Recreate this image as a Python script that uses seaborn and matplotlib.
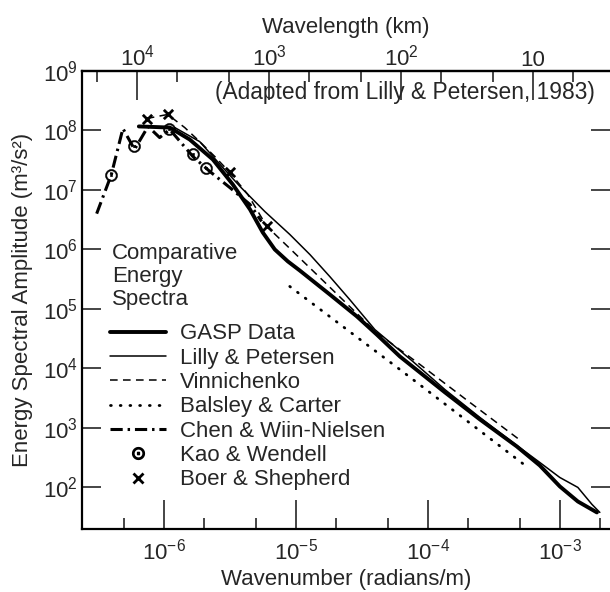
import matplotlib
matplotlib.use("Agg")
import matplotlib.pyplot as plt
from matplotlib.lines import Line2D
from matplotlib.ticker import LogLocator, FixedLocator, NullFormatter
import numpy as np
import seaborn as sns

# wavenumber (rad/m) and energy spectral amplitude (m^3/s^2)
gasp_k = [6.47e-7, 1.11e-6, 1.57e-6, 2.35e-6, 3.33e-6, 4.5e-6, 5.62e-6, 6.93e-6, 8.7e-6, 1.07e-5, 1.81e-5,
          2.9e-5, 4.1e-5, 6.14e-5, 1.35e-4, 2.48e-4, 4.72e-4, 7.05e-4, 1.0e-3, 1.37e-3, 1.91e-3]
gasp_E = [1.17e8, 1.12e8, 7.06e7, 3.26e7, 1.24e7, 4.7e6, 1.93e6, 1.0e6, 6.3e5, 4.44e5, 1.75e5,
          7.5e4, 3.72e4, 1.59e4, 3.95e3, 1.39e3, 489, 234, 104, 58, 38]

lilly_k = [1.21e-6, 1.87e-6, 2.66e-6, 3.77e-6, 5.82e-6, 9.0e-6, 1.28e-5, 1.81e-5, 2.56e-5, 3.97e-5,
           7.7e-5, 1.35e-4, 2.48e-4, 4.72e-4, 7.05e-4, 1.0e-3, 1.37e-3, 1.75e-3, 2.01e-3]
lilly_E = [1.12e8, 6.5e7, 2.7e7, 1.15e7, 4.35e6, 1.79e6, 8.2e5, 3.5e5, 1.44e5, 4.5e4,
           1.31e4, 4.4e3, 1.5e3, 508, 263, 147, 100, 52, 38]

vinn_k = [7.43e-7, 1.07e-6, 1.44e-6, 1.87e-6, 2.43e-6, 3.16e-6, 4.33e-6, 6.03e-6, 9.0e-6, 1.52e-5,
          2.56e-5, 4.1e-5, 8.7e-5, 2.08e-4, 4.8e-4]
vinn_E = [1.59e8, 1.86e8, 1.12e8, 6.5e7, 3.66e7, 1.97e7, 8.4e6, 2.44e6, 1.04e6, 3.38e5,
          1.1e5, 4.0e4, 1.17e4, 2.69e3, 667]

balsley_k = [9.0e-6, 6.14e-5, 5.72e-4]
balsley_E = [2.39e5, 9.6e3, 217]

chen_k = [3.1e-7, 4.0e-7, 4.9e-7, 6.0e-7, 7.6e-7, 9.3e-7, 1.11e-6, 1.66e-6, 2.23e-6, 3.16e-6, 4.5e-6, 5.5e-6]
chen_E = [4.0e6, 1.8e7, 1.08e8, 4.8e7, 1.17e8, 7.6e7, 1.04e8, 3.66e7, 2.05e7, 1.1e7, 5.7e6, 2.96e6]

kao_k = [3.97e-7, 5.93e-7, 1.09e-6, 1.66e-6, 2.08e-6]
kao_E = [1.8e7, 5.4e7, 1.04e8, 4.1e7, 2.3e7]

boer_k = [7.43e-7, 1.07e-6, 3.16e-6, 6.03e-6]
boer_E = [1.59e8, 1.86e8, 1.97e7, 2.44e6]

x_ticks = [1e-6, 1e-5, 1e-4, 1e-3]
x_labels = ['$\\mathregular{10^{-6}}$', '$\\mathregular{10^{-5}}$', '$\\mathregular{10^{-4}}$', '$\\mathregular{10^{-3}}$']
y_ticks = [1e2, 1e3, 1e4, 1e5, 1e6, 1e7, 1e8, 1e9]
y_labels = ['$\\mathregular{10^{%d}}$' % i for i in range(2, 10)]
wl_ticks = [1e4, 1e3, 1e2, 1e1]
wl_labels = ['$\\mathregular{10^{4}}$', '$\\mathregular{10^{3}}$', '$\\mathregular{10^{2}}$', '10']

sns.set_theme(style='ticks')
plt.rcParams['font.family'] = ['Liberation Sans', 'DejaVu Sans']
FS = 16

fig = plt.figure(figsize=(6.1, 5.92), dpi=100)
ax = fig.add_axes([82 / 610, 63 / 592, 528 / 610, 458 / 592])

chen_ls = (0, (4, 1.6, 0.8, 1.6))
vinn_ls = (0, (5, 3.5))
dot_ls = (0, (0.3, 3.2))

sns.lineplot(x=gasp_k, y=gasp_E, ax=ax, sort=False, estimator=None, color='black', lw=2.8)
sns.lineplot(x=lilly_k, y=lilly_E, ax=ax, sort=False, estimator=None, color='black', lw=1.1)
sns.lineplot(x=vinn_k, y=vinn_E, ax=ax, sort=False, estimator=None, color='black', lw=1.1, linestyle=vinn_ls)
sns.lineplot(x=balsley_k, y=balsley_E, ax=ax, sort=False, estimator=None, color='black', lw=2.0,
             linestyle=dot_ls, dash_capstyle='round')
sns.lineplot(x=chen_k, y=chen_E, ax=ax, sort=False, estimator=None, color='black', lw=2.2, linestyle=chen_ls)
sns.scatterplot(x=kao_k, y=kao_E, ax=ax, marker='$\\odot$', s=75, color='black', linewidth=0.4,
                edgecolor='black', zorder=5)
sns.scatterplot(x=boer_k, y=boer_E, ax=ax, marker='x', s=45, color='black', linewidth=2, zorder=5)

ax.set_xscale('log')
ax.set_yscale('log')
ax.set_xlim(2.4e-7, 2.4e-3)
ax.set_ylim(20, 1e9)

ax.set_xticks(x_ticks, labels=x_labels)
ax.xaxis.set_minor_locator(LogLocator(base=10, subs=(2.0, 5.0)))
ax.xaxis.set_minor_formatter(NullFormatter())
ax.set_yticks(y_ticks, labels=y_labels)
ax.yaxis.set_minor_locator(FixedLocator([]))

ax.tick_params(axis='x', which='major', direction='in', length=21, width=1.2, labelsize=FS, pad=7, top=False)
ax.tick_params(axis='x', which='minor', direction='in', length=8, width=1.2, top=False)
ax.tick_params(axis='y', which='major', direction='in', length=14, width=1.2, labelsize=FS, pad=3,
               right=True, labelright=False)
for s in ['left', 'bottom', 'top']:
    ax.spines[s].set_linewidth(1.6)
    ax.spines[s].set_color('black')
ax.spines['right'].set_visible(False)

ax.set_xlabel('Wavenumber (radians/m)', fontsize=FS, labelpad=3)
ax.set_ylabel('Energy Spectral Amplitude (m³/s²)', fontsize=FS, labelpad=7)

# top axis: wavelength in km, lambda = 2*pi/k
secax = ax.secondary_xaxis('top', functions=(lambda k: 2 * np.pi / (np.asarray(k) * 1000.0),
                                             lambda l: 2 * np.pi / (np.asarray(l) * 1000.0)))
secax.set_xticks(wl_ticks, labels=wl_labels)
secax.xaxis.set_minor_locator(LogLocator(base=10, subs=(2.0, 5.0)))
secax.xaxis.set_minor_formatter(NullFormatter())
secax.tick_params(which='major', direction='in', length=21, width=1.2, labelsize=FS, pad=0)
secax.tick_params(which='minor', direction='in', length=8, width=1.2)
secax.spines['top'].set_linewidth(1.6)
secax.set_xlabel('Wavelength (km)', fontsize=FS, labelpad=9)

ax.text(0.972, 0.954, '(Adapted from Lilly & Petersen, 1983)', transform=ax.transAxes,
        ha='right', va='center', fontsize=16.4)

ax.text(0.057, 0.624, 'Comparative\nEnergy\nSpectra', transform=ax.transAxes,
        ha='left', va='top', fontsize=FS, linespacing=1.12)

handles = [
    Line2D([], [], color='black', lw=2.8),
    Line2D([], [], color='black', lw=1.1),
    Line2D([], [], color='black', lw=1.1, linestyle=vinn_ls),
    Line2D([], [], color='black', lw=2.0, linestyle=dot_ls, dash_capstyle='round'),
    Line2D([], [], color='black', lw=2.2, linestyle=chen_ls),
    Line2D([], [], color='black', marker='$\\odot$', markersize=8.5, linestyle='none'),
    Line2D([], [], color='black', marker='x', markersize=6.5, mew=2, linestyle='none'),
]
names = ['GASP Data', 'Lilly & Petersen', 'Vinnichenko', 'Balsley & Carter',
         'Chen & Wiin-Nielsen', 'Kao & Wendell', 'Boer & Shepherd']
ax.legend(handles, names, loc='upper left', bbox_to_anchor=(0.053, 0.449), frameon=False, fontsize=FS,
          handlelength=2.5, handletextpad=0.65, labelspacing=0.15, borderpad=0, borderaxespad=0)

fig.savefig('out.png', dpi=100)
